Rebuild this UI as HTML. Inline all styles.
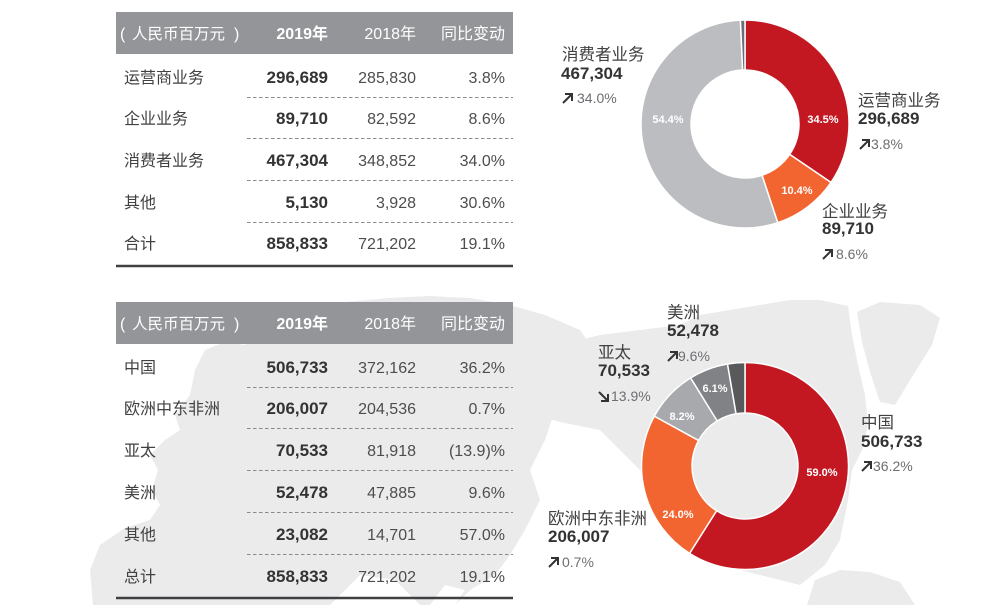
<!DOCTYPE html>
<html>
<head>
<meta charset="utf-8">
<style>
html,body{margin:0;padding:0;background:#fff;}
svg{display:block;}
text{font-family:"Liberation Sans","Noto Sans CJK SC",sans-serif;}
.lb{font-size:16px;fill:#414042;}
.b{font-size:17px;font-weight:bold;fill:#333333;}
.r{font-size:16px;fill:#4d4d4f;}
.h{font-size:16px;fill:#ffffff;}
.hb{font-size:16px;fill:#ffffff;font-weight:bold;}
.dl{font-size:16.5px;fill:#414042;}
.dn{font-size:17px;font-weight:bold;fill:#333333;}
.dp{font-size:14px;fill:#6d6e71;}
.pc{font-size:11px;font-weight:bold;fill:#ffffff;}
.dash{stroke:#8a8a8c;stroke-width:1;stroke-dasharray:3.5,2.5;}
.arr{stroke:#333;stroke-width:2;fill:none;}
</style>
</head>
<body>
<svg width="1000" height="605" viewBox="0 0 1000 605" xmlns="http://www.w3.org/2000/svg">
<!-- background map -->
<g fill="#ebebec">
<polygon points="93,605 90,570 100,545 125,528 150,520 160,505 152,490 158,470 150,455 165,440 180,430 175,415 190,395 195,370 205,350 225,342 245,345 255,330 280,318 310,308 345,302 390,298 430,296 470,298 510,305 545,315 580,330 590,345 575,360 565,390 555,410 545,440 530,470 540,500 525,530 510,555 495,575 470,590 455,605"/>
<polygon points="540,362 560,345 600,335 640,330 680,325 700,315 730,310 760,305 790,300 820,300 848,306 852,335 858,365 865,395 868,425 862,450 852,470 848,500 840,540 825,565 800,585 760,575 700,560 640,470 600,430 560,422 540,416"/>
<polygon points="857,312 880,302 920,305 940,318 932,345 915,372 895,405 880,402 870,372 862,342"/>
<polygon points="807,605 815,580 840,570 870,572 900,582 915,605"/>
</g>
<g fill="#ffffff">
<polygon points="330,605 360,575 395,580 420,605"/>
<polygon points="430,605 445,585 465,590 455,605"/>
</g>

<!-- TOP TABLE -->
<rect x="116" y="12" width="397" height="42" fill="#939598"/>
<text x="120" y="39" class="h">(</text>
<text x="132" y="39" class="h" style="font-size:15.5px">人民币百万元</text>
<text x="234" y="39" class="h">)</text>
<text x="328" y="39" class="hb" text-anchor="end">2019年</text>
<text x="416" y="39" class="h" text-anchor="end">2018年</text>
<text x="505" y="39" class="h" text-anchor="end">同比变动</text>

<text x="124" y="83" class="lb">运营商业务</text>
<text x="328" y="83" class="b" text-anchor="end">296,689</text>
<text x="416" y="83" class="r" text-anchor="end">285,830</text>
<text x="505" y="83" class="r" text-anchor="end">3.8%</text>
<line x1="247" y1="97.5" x2="513" y2="97.5" class="dash"/>

<text x="124" y="124" class="lb">企业业务</text>
<text x="328" y="124" class="b" text-anchor="end">89,710</text>
<text x="416" y="124" class="r" text-anchor="end">82,592</text>
<text x="505" y="124" class="r" text-anchor="end">8.6%</text>
<line x1="247" y1="138.5" x2="513" y2="138.5" class="dash"/>

<text x="124" y="166" class="lb">消费者业务</text>
<text x="328" y="166" class="b" text-anchor="end">467,304</text>
<text x="416" y="166" class="r" text-anchor="end">348,852</text>
<text x="505" y="166" class="r" text-anchor="end">34.0%</text>
<line x1="247" y1="180.5" x2="513" y2="180.5" class="dash"/>

<text x="124" y="208" class="lb">其他</text>
<text x="328" y="208" class="b" text-anchor="end">5,130</text>
<text x="416" y="208" class="r" text-anchor="end">3,928</text>
<text x="505" y="208" class="r" text-anchor="end">30.6%</text>
<line x1="247" y1="222.5" x2="513" y2="222.5" class="dash"/>

<text x="124" y="249" class="lb">合计</text>
<text x="328" y="249" class="b" text-anchor="end">858,833</text>
<text x="416" y="249" class="r" text-anchor="end">721,202</text>
<text x="505" y="249" class="r" text-anchor="end">19.1%</text>
<line x1="116" y1="266" x2="513" y2="266" stroke="#414042" stroke-width="2.5"/>

<!-- BOTTOM TABLE -->
<rect x="116" y="302" width="397" height="42" fill="#939598"/>
<text x="120" y="329" class="h">(</text>
<text x="132" y="329" class="h" style="font-size:15.5px">人民币百万元</text>
<text x="234" y="329" class="h">)</text>
<text x="328" y="329" class="hb" text-anchor="end">2019年</text>
<text x="416" y="329" class="h" text-anchor="end">2018年</text>
<text x="505" y="329" class="h" text-anchor="end">同比变动</text>

<text x="124" y="373" class="lb">中国</text>
<text x="328" y="373" class="b" text-anchor="end">506,733</text>
<text x="416" y="373" class="r" text-anchor="end">372,162</text>
<text x="505" y="373" class="r" text-anchor="end">36.2%</text>
<line x1="247" y1="387.5" x2="513" y2="387.5" class="dash"/>

<text x="124" y="414" class="lb">欧洲中东非洲</text>
<text x="328" y="414" class="b" text-anchor="end">206,007</text>
<text x="416" y="414" class="r" text-anchor="end">204,536</text>
<text x="505" y="414" class="r" text-anchor="end">0.7%</text>
<line x1="247" y1="428.5" x2="513" y2="428.5" class="dash"/>

<text x="124" y="456" class="lb">亚太</text>
<text x="328" y="456" class="b" text-anchor="end">70,533</text>
<text x="416" y="456" class="r" text-anchor="end">81,918</text>
<text x="505" y="456" class="r" text-anchor="end">(13.9)%</text>
<line x1="247" y1="470.5" x2="513" y2="470.5" class="dash"/>

<text x="124" y="498" class="lb">美洲</text>
<text x="328" y="498" class="b" text-anchor="end">52,478</text>
<text x="416" y="498" class="r" text-anchor="end">47,885</text>
<text x="505" y="498" class="r" text-anchor="end">9.6%</text>
<line x1="247" y1="512.5" x2="513" y2="512.5" class="dash"/>

<text x="124" y="540" class="lb">其他</text>
<text x="328" y="540" class="b" text-anchor="end">23,082</text>
<text x="416" y="540" class="r" text-anchor="end">14,701</text>
<text x="505" y="540" class="r" text-anchor="end">57.0%</text>
<line x1="247" y1="554.5" x2="513" y2="554.5" class="dash"/>

<text x="124" y="582" class="lb">总计</text>
<text x="328" y="582" class="b" text-anchor="end">858,833</text>
<text x="416" y="582" class="r" text-anchor="end">721,202</text>
<text x="505" y="582" class="r" text-anchor="end">19.1%</text>
<line x1="116" y1="598" x2="513" y2="598" stroke="#414042" stroke-width="2.5"/>

<!-- TOP DONUT -->
<g stroke="#ffffff" stroke-width="1.5" stroke-linejoin="round">
<path fill="#c31822" d="M745,20 A104,104 0 0 1 831.02,182.46 L789.66,154.35 A54,54 0 0 0 745,70 Z"/>
<path fill="#f26430" d="M831.02,182.46 A104,104 0 0 1 777.76,222.71 L762.01,175.25 A54,54 0 0 0 789.66,154.35 Z"/>
<path fill="#bcbdc0" d="M777.76,222.71 A104,104 0 1 1 740.43,20.10 L742.63,70.05 A54,54 0 1 0 762.01,175.25 Z"/>
<path fill="#6d6e71" d="M740.43,20.10 A104,104 0 0 1 745,20 L745,70 A54,54 0 0 0 742.63,70.05 Z"/>
</g>
<text x="823" y="123" class="pc" text-anchor="middle">34.5%</text>
<text x="797" y="194" class="pc" text-anchor="middle">10.4%</text>
<text x="668" y="123" class="pc" text-anchor="middle">54.4%</text>

<text x="562" y="60" class="dl">消费者业务</text>
<text x="561" y="79" class="dn">467,304</text>
<path class="arr" d="M563,103 L572,94 M565,94 L572,94 L572,101"/>
<text x="577" y="103" class="dp">34.0%</text>

<text x="858" y="106" class="dl">运营商业务</text>
<text x="858" y="124" class="dn">296,689</text>
<path class="arr" d="M860,149 L869,140 M862,140 L869,140 L869,147"/>
<text x="871" y="149" class="dp">3.8%</text>

<text x="822" y="217" class="dl">企业业务</text>
<text x="822" y="234" class="dn">89,710</text>
<path class="arr" d="M823,259 L832,250 M825,250 L832,250 L832,257"/>
<text x="836" y="259" class="dp">8.6%</text>

<!-- BOTTOM DONUT -->
<g stroke="#ffffff" stroke-width="1.5" stroke-linejoin="round">
<path fill="#c31822" d="M745,362.5 A103.5,103.5 0 1 1 689.54,553.38 L716.60,510.75 A53,53 0 1 0 745,413 Z"/>
<path fill="#f26430" d="M689.54,553.38 A103.5,103.5 0 0 1 654.30,416.13 L698.56,440.46 A53,53 0 0 0 716.60,510.75 Z"/>
<path fill="#a7a9ac" d="M654.30,416.13 A103.5,103.5 0 0 1 690.65,377.92 L717.17,420.90 A53,53 0 0 0 698.56,440.46 Z"/>
<path fill="#808285" d="M690.65,377.92 A103.5,103.5 0 0 1 727.53,363.99 L736.05,413.76 A53,53 0 0 0 717.17,420.90 Z"/>
<path fill="#58595b" d="M727.53,363.99 A103.5,103.5 0 0 1 745,362.5 L745,413 A53,53 0 0 0 736.05,413.76 Z"/>
</g>
<text x="822" y="476" class="pc" text-anchor="middle">59.0%</text>
<text x="678" y="518" class="pc" text-anchor="middle">24.0%</text>
<text x="682" y="420" class="pc" text-anchor="middle">8.2%</text>
<text x="715" y="392" class="pc" text-anchor="middle">6.1%</text>

<text x="667" y="318" class="dl">美洲</text>
<text x="667" y="336" class="dn">52,478</text>
<path class="arr" d="M668,361 L677,352 M670,352 L677,352 L677,359"/>
<text x="678" y="361" class="dp">9.6%</text>

<text x="598" y="358" class="dl">亚太</text>
<text x="598" y="376" class="dn">70,533</text>
<path class="arr" d="M599,392 L608,401 M608,394 L608,401 L601,401"/>
<text x="611" y="401" class="dp">13.9%</text>

<text x="861" y="428" class="dl">中国</text>
<text x="861" y="447" class="dn">506,733</text>
<path class="arr" d="M862,471 L871,462 M864,462 L871,462 L871,469"/>
<text x="873" y="471" class="dp">36.2%</text>

<text x="548" y="524" class="dl">欧洲中东非洲</text>
<text x="548" y="542" class="dn">206,007</text>
<path class="arr" d="M549,567 L558,558 M551,558 L558,558 L558,565"/>
<text x="562" y="567" class="dp">0.7%</text>
</svg>
</body>
</html>
